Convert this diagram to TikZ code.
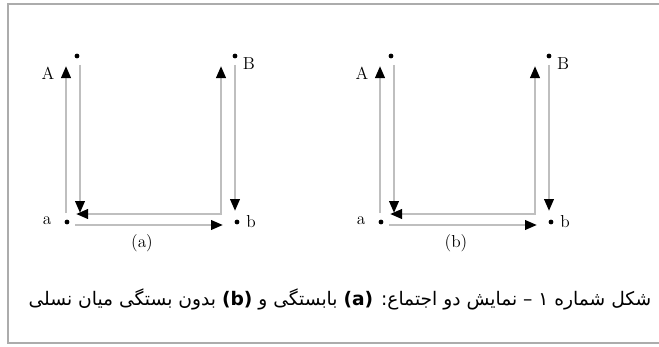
\documentclass[tikz,border=0pt]{standalone}
\usepackage{fontspec}
\newfontfamily\arabicfont[Script=Arabic]{DejaVu Sans}
\TeXXeTstate=1
\usetikzlibrary{arrows.meta, calc}

\begin{document}
\begin{tikzpicture}[
  x=0.75pt, y=-0.75pt,
  dot/.style   = {circle, fill=black, inner sep=0pt, minimum size=3.6pt},
  lbl/.style   = {font=\fontsize{13}{15}\selectfont, inner sep=0pt},
  arr/.style   = {draw=gray!50, line width=2pt,
                  -{Triangle[length=9pt, width=7pt, color=black]}},
  frame/.style = {draw=gray!65, line width=1.6pt},
]
  \useasboundingbox (0,0) rectangle (659,346);
  \draw[frame] (670,4) -- (8,4) -- (8,343) -- (670,343);

  % two panels, (b) shifted to the right
  \foreach \dx/\p in {0/a, 314/b} {
    \begin{scope}[shift={(\dx,0)}]
      \node[dot] (\p-A) at (77,56)  {};
      \node[dot] (\p-B) at (235,56) {};
      \node[dot] (\p-a) at (67,222) {};
      \node[dot] (\p-b) at (237,222) {};
      \node[lbl] (\p-lA) at ($(\p-A)+(-29,17)$) {A};
      \node[lbl] (\p-lB) at ($(\p-B)+(14,8)$)   {B};
      \node[lbl] (\p-la) at ($(\p-a)+(-20,-1)$) {a};
      \node[lbl] (\p-lb) at ($(\p-b)+(14,0)$)   {b};
      \draw[arr] ($(\p-a)+(-1,-9)$)   -- ($(\p-A)+(-11,10)$);
      \draw[arr] ($(\p-A)+(3,9)$)     -- ($(\p-a)+(13,-9)$);
      \draw[arr] ($(\p-b)+(-17,-8)$)  -- ($(\p-a)+(9,-8)$);
      \draw[arr] ($(\p-a)+(8,3)$)     -- ($(\p-b)+(-14,3)$);
      \draw[arr] ($(\p-b)+(-16,-7)$)  -- ($(\p-B)+(-14,10)$);
      \draw[arr] ($(\p-B)+(0,9)$)     -- ($(\p-b)+(-2,-11)$);
      \node[lbl] (\p-cap) at (142,243) {(\p)};
    \end{scope}
  }

  \node[font=\arabicfont\fontsize{14}{16}\selectfont] (caption) at (340,299)
    {\beginR شکل شماره ۱ – نمایش دو اجتماع: \beginL\textbf{(a)}\endL{} بابستگی و \beginL\textbf{(b)}\endL{} بدون بستگی میان نسلی\endR};
\end{tikzpicture}
\end{document}
